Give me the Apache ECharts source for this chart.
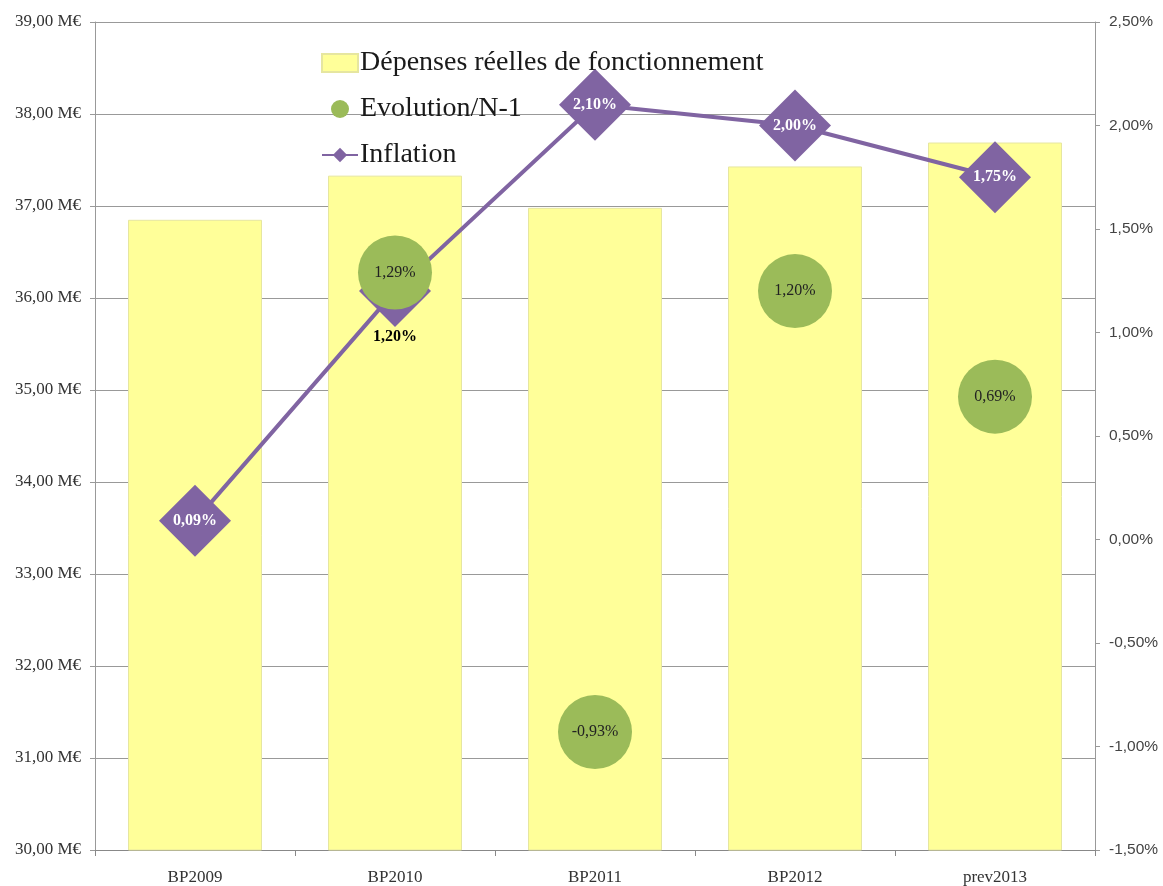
<!DOCTYPE html>
<html>
<head>
<meta charset="utf-8">
<script src="https://cdn.jsdelivr.net/npm/echarts@6/dist/echarts.min.js"></script>
<style>
html, body { margin: 0; padding: 0; background: #fff; }
#chart { width: 1163px; height: 886px; }
</style>
</head>
<body>
<div id="chart"></div>
<script>
// données du graphique
var categories = ['BP2009', 'BP2010', 'BP2011', 'BP2012', 'prev2013'];
var depenses = [36.85, 37.33, 36.98, 37.43, 37.69];   // M€
var evolution = [null, 1.29, -0.93, 1.20, 0.69];       // %
var inflation = [0.09, 1.20, 2.10, 2.00, 1.75];        // %

var serif = '"Liberation Serif", "DejaVu Serif", serif';

function fr(v) {
	return v.toFixed(2).replace('.', ',');
}

var myChart = echarts.init(document.getElementById('chart'));

var inflationData = inflation.map(function (v, i) {
	var item = { value: v };
	// 2010 : étiquette sous le losange, masqué par le cercle
	if (i === 1) {
		item.label = { position: 'bottom', distance: 2, color: '#000' };
	}
	return item;
});

var option = {
	animation: false,
	textStyle: { fontFamily: serif },
	grid: { left: 95, right: 68, top: 22, bottom: 35 },
	legend: {
		orient: 'vertical',
		left: 316,
		top: 44,
		itemWidth: 36,
		itemHeight: 18,
		itemGap: 18,
		textStyle: { fontFamily: serif, fontSize: 28, color: '#1a1a1a', padding: [0, 0, 0, -3] },
		data: [
			{ name: 'Dépenses réelles de fonctionnement', icon: 'rect' },
			{ name: 'Evolution/N-1', icon: 'circle' },
			{ name: 'Inflation' }
		]
	},
	xAxis: {
		type: 'category',
		data: categories,
		axisLine: { onZero: false, lineStyle: { color: '#888' } },
		axisTick: { show: true, length: 6, lineStyle: { color: '#888' } },
		axisLabel: { fontFamily: serif, fontSize: 17, color: '#333', margin: 19 }
	},
	yAxis: [
		{
			type: 'value',
			min: 30,
			max: 39,
			interval: 1,
			axisLine: { show: true, lineStyle: { color: '#999' } },
			axisTick: { show: true, length: 5, lineStyle: { color: '#999' } },
			splitLine: { lineStyle: { color: '#999', width: 1 } },
			axisLabel: {
				fontFamily: serif, fontSize: 17, color: '#333', margin: 14,
				formatter: function (v) { return fr(v) + ' M€'; }
			}
		},
		{
			type: 'value',
			min: -1.5,
			max: 2.5,
			interval: 0.5,
			position: 'right',
			axisLine: { show: true, lineStyle: { color: '#999' } },
			axisTick: { show: true, length: 5, lineStyle: { color: '#999' } },
			splitLine: { show: false },
			axisLabel: {
				fontFamily: 'Arial, "Liberation Sans", sans-serif', fontSize: 15.5, color: '#444', margin: 14,
				formatter: function (v) { return fr(v) + '%'; }
			}
		}
	],
	series: [
		{
			name: 'Dépenses réelles de fonctionnement',
			type: 'bar',
			data: depenses,
			barWidth: '67%',
			itemStyle: { color: '#FFFF99', borderColor: '#E6E6A0', borderWidth: 1 },
			z: 2
		},
		{
			name: 'Inflation',
			type: 'line',
			yAxisIndex: 1,
			data: inflationData,
			symbol: 'diamond',
			symbolSize: 72,
			lineStyle: { color: '#8064A2', width: 4 },
			itemStyle: { color: '#8064A2' },
			label: {
				show: true,
				position: 'inside',
				fontFamily: serif,
				fontSize: 16,
				fontWeight: 'bold',
				color: '#fff',
				formatter: function (p) { return fr(p.value) + '%'; }
			},
			z: 3
		},
		{
			name: 'Evolution/N-1',
			type: 'scatter',
			yAxisIndex: 1,
			data: evolution,
			symbol: 'circle',
			symbolSize: 74,
			itemStyle: { color: '#9BBB59', opacity: 1 },
			label: {
				show: true,
				position: 'inside',
				fontFamily: serif,
				fontSize: 16,
				color: '#222',
				formatter: function (p) { return fr(p.value) + '%'; }
			},
			z: 4
		}
	]
};

myChart.setOption(option);
</script>
</body>
</html>
